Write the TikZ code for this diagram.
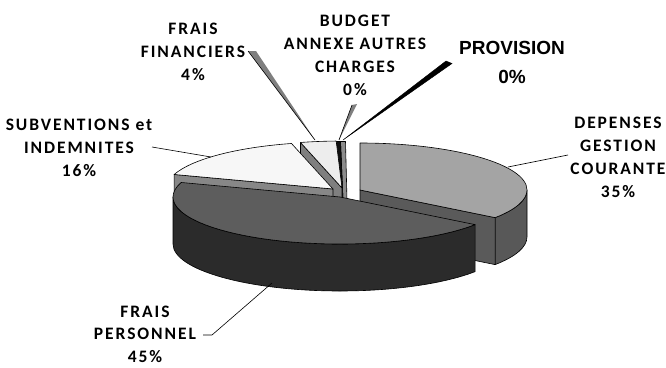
\documentclass[tikz,border=0pt]{standalone}
\usepackage{fontspec}
\setmainfont{Carlito}
\newfontfamily\lblfont{Carlito}[LetterSpace=11]
\newfontfamily\provfont{Liberation Sans}
\usetikzlibrary{calc}
\definecolor{dtop}{HTML}{A4A4A4}
\definecolor{dside}{HTML}{585858}
\definecolor{dcut}{HTML}{5A5A5A}
\definecolor{ptop}{HTML}{5D5D5D}
\definecolor{pside}{HTML}{2B2B2B}
\definecolor{stopc}{HTML}{F7F7F7}
\definecolor{scut}{HTML}{878787}
\definecolor{ftop}{HTML}{EDEDED}
\definecolor{fcut}{HTML}{7F7F7F}
\definecolor{sliverg}{HTML}{8C8C8C}
\definecolor{sliverb}{HTML}{101010}
\def\pieD{47}
\tikzset{
  face/.style={draw=black, line width=0.6pt, line join=round},
  lbl/.style={inner sep=0pt, align=center, font=\lblfont\bfseries\fontsize{17.5}{23}\selectfont},
  leader/.style={draw=black, line width=0.6pt},
  ellarc/.style={x radius=167, y radius=47}
}
\begin{document}
\begin{tikzpicture}[x=1pt,y=1pt]
\useasboundingbox (0,0) rectangle (666,-367);
\fill[white] (0,0) rectangle (666,-367);
\coordinate (D) at (360,-190);
\coordinate (P) at (340,-197);
\coordinate (S) at (333,-189);
\coordinate (F) at (342,-188);
% DEPENSES GESTION COURANTE
\filldraw[face, fill=dside] ($(D)+(0:167 and 47)$) arc[start angle=0, end angle=-36, ellarc] -- ++(0,-\pieD) arc[start angle=-36, end angle=0, ellarc] -- cycle;
\filldraw[face, fill=dcut] (D) -- ($(D)+(-36:167 and 47)$) -- ++(0,-\pieD) -- ($(D)+(0,-\pieD)$) -- cycle;
\filldraw[face, fill=dtop] (D) -- ($(D)+(90:167 and 47)$) arc[start angle=90, end angle=-36, ellarc] -- cycle;
% PROVISION and BUDGET slivers
\filldraw[face, fill=sliverg] (340.5,-141.5) -- (345.5,-141.5) -- (347,-200) -- (343,-200) -- cycle;
\filldraw[face, fill=sliverb] (336,-141.5) -- (340.5,-141.5) -- (343,-200) -- (339,-200) -- cycle;
% FRAIS FINANCIERS
\filldraw[face, fill=fcut] (F) -- ($(F)+(104.4:167 and 47)$) -- ++(0,-\pieD) -- ($(F)+(0,-\pieD)$) -- cycle;
\filldraw[face, fill=ftop] (F) -- ($(F)+(104.4:167 and 47)$) arc[start angle=104.4, end angle=92, ellarc] -- cycle;
% SUBVENTIONS
\filldraw[face, fill=scut] (S) -- ($(S)+(162:167 and 47)$) -- ++(0,-\pieD) -- ($(S)+(0,-\pieD)$) -- cycle;
\filldraw[face, fill=stopc] (S) -- ($(S)+(162:167 and 47)$) arc[start angle=162, end angle=104.4, ellarc] -- cycle;
% FRAIS PERSONNEL
\filldraw[face, fill=pside] ($(P)+(-36:167 and 47)$) arc[start angle=-36, end angle=-180, ellarc] -- ++(0,-\pieD) arc[start angle=-180, end angle=-36, ellarc] -- cycle;
\filldraw[face, fill=ptop] (P) -- ($(P)+(-36:167 and 47)$) arc[start angle=-36, end angle=-198, ellarc] -- cycle;

% labels
\node[lbl] (ff) at (193,-52) {FRAIS\\FINANCIERS\\4\%};
\node[lbl] (ba) at (355,-55) {BUDGET\\ANNEXE AUTRES\\CHARGES\\0\%};
\node[inner sep=0pt, align=center, font=\provfont\bfseries\fontsize{19}{29}\selectfont] (pr) at (512,-62) {PROVISION\\0\%};
\node[lbl] (dg) at (618,-157) {DEPENSES\\GESTION\\COURANTE\\35\%};
\node[lbl] (sv) at (79,-148) {SUBVENTIONS et\\INDEMNITES\\16\%};
\node[lbl, font=\lblfont\bfseries\fontsize{17.5}{22.5}\selectfont] (fp) at (145,-334) {FRAIS\\PERSONNEL\\45\%};

% leaders
\coordinate (ffa) at (248,-51);
\coordinate (ffb) at (256,-51);
\coordinate (ffe) at (315,-140);
\filldraw[fill=fcut, draw=none] (ffa) -- (ffb) -- (ffe) -- cycle;
\draw[leader] (ffa) -- (ffe);
\coordinate (baa) at (352,-105);
\coordinate (bab) at (357,-104);
\coordinate (bae) at (339,-140);
\filldraw[fill=fcut, draw=none] (baa) -- (bab) -- (bae) -- cycle;
\draw[leader] (baa) -- (bae);
\coordinate (pra) at (446,-61);
\coordinate (prb) at (452,-63.5);
\coordinate (pre) at (343,-140);
\filldraw[fill=black, draw=black, line width=0.4pt] (pra) -- (prb) -- (pre) -- cycle;
\coordinate (sva) at (152,-147);
\coordinate (sve) at (211,-157);
\draw[leader] (sva) -- (sve);
\coordinate (dga) at (568,-155);
\coordinate (dge) at (508,-167);
\draw[leader] (dga) -- (dge);
\coordinate (fpa) at (203,-335);
\coordinate (fpb) at (212,-335);
\coordinate (fpe) at (272,-283);
\draw[leader] (fpa) -- (fpb) -- (fpe);
\end{tikzpicture}
\end{document}
